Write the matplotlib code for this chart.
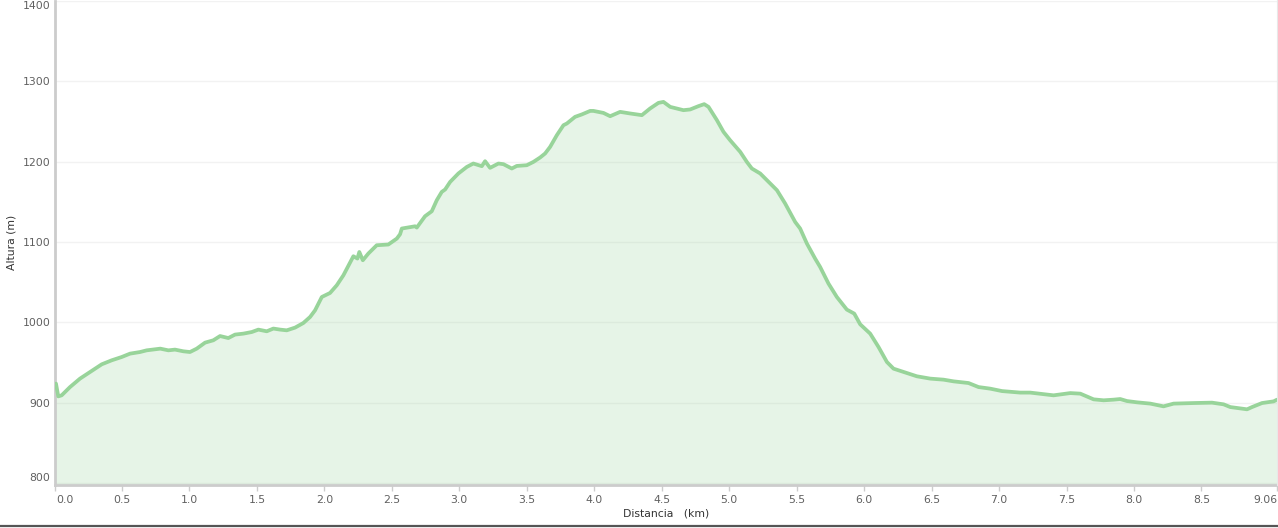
import matplotlib
matplotlib.use("Agg")
import matplotlib.pyplot as plt
import matplotlib.transforms as mtransforms
from matplotlib.lines import Line2D

distance_km = [0.000, 0.011, 0.028, 0.053, 0.115, 0.189, 0.263, 0.350, 0.424, 0.498,
               0.560, 0.634, 0.683, 0.784, 0.844, 0.893, 0.955, 1.004, 1.054, 1.116,
               1.177, 1.227, 1.288, 1.338, 1.400, 1.462, 1.511, 1.573, 1.622, 1.672,
               1.721, 1.783, 1.844, 1.894, 1.931, 1.981, 2.042, 2.092, 2.141, 2.215,
               2.245, 2.259, 2.285, 2.326, 2.388, 2.474, 2.537, 2.561, 2.574, 2.672,
               2.685, 2.746, 2.796, 2.833, 2.870, 2.895, 2.932, 2.993, 3.056, 3.104,
               3.167, 3.191, 3.228, 3.290, 3.327, 3.389, 3.426, 3.500, 3.549, 3.599,
               3.636, 3.673, 3.723, 3.772, 3.797, 3.858, 3.908, 3.970, 3.994, 4.068,
               4.118, 4.192, 4.266, 4.353, 4.414, 4.476, 4.513, 4.563, 4.661, 4.711,
               4.772, 4.815, 4.847, 4.909, 4.958, 5.007, 5.082, 5.131, 5.168, 5.230,
               5.317, 5.354, 5.415, 5.489, 5.526, 5.576, 5.637, 5.674, 5.736, 5.798,
               5.872, 5.927, 5.971, 6.045, 6.107, 6.169, 6.218, 6.317, 6.391, 6.490,
               6.589, 6.663, 6.774, 6.848, 6.935, 7.022, 7.157, 7.231, 7.404, 7.528,
               7.602, 7.701, 7.775, 7.849, 7.898, 7.948, 8.022, 8.121, 8.219, 8.294,
               8.442, 8.578, 8.664, 8.714, 8.838, 8.875, 8.949, 9.035, 9.060]

altitude_m = [922.0, 923.7, 907.8, 909.1, 919.4, 929.9, 938.1, 947.7, 952.7, 956.8,
              961.0, 963.0, 965.1, 967.2, 965.1, 966.0, 963.9, 963.0, 967.2, 974.7,
              977.6, 982.9, 980.4, 984.7, 985.9, 987.9, 990.9, 988.8, 992.2, 990.9,
              990.0, 993.4, 999.1, 1006.6, 1014.9, 1031.5, 1036.5, 1046.1, 1058.5, 1082.2,
              1079.3, 1087.5, 1077.2, 1085.6, 1095.9, 1096.8, 1104.2, 1109.6, 1116.7, 1119.5,
              1117.9, 1132.0, 1138.2, 1151.9, 1162.3, 1165.3, 1174.7, 1185.2, 1193.4, 1197.6,
              1194.3, 1200.5, 1192.2, 1197.6, 1196.8, 1191.4, 1194.6, 1195.5, 1199.6, 1205.1,
              1210.1, 1218.3, 1232.9, 1245.3, 1247.4, 1255.7, 1258.7, 1263.1, 1263.1, 1260.6,
              1256.5, 1261.9, 1259.9, 1257.8, 1266.1, 1273.1, 1274.3, 1268.1, 1264.0, 1264.9,
              1269.0, 1271.5, 1268.1, 1251.6, 1237.0, 1226.6, 1212.1, 1199.6, 1191.4, 1185.2,
              1170.6, 1164.4, 1147.8, 1124.9, 1116.7, 1098.0, 1079.3, 1068.9, 1048.2, 1031.5,
              1015.8, 1010.8, 997.5, 985.9, 969.2, 950.6, 942.3, 936.9, 932.8, 929.9,
              928.6, 926.5, 924.4, 919.4, 917.4, 914.4, 912.5, 912.5, 909.1, 911.9,
              911.2, 904.1, 902.9, 903.7, 904.5, 902.0, 900.4, 898.8, 895.4, 898.8,
              899.5, 900.0, 897.9, 894.5, 891.7, 894.5, 899.5, 901.6, 903.7]

x_ticks = [0.0, 0.5, 1.0, 1.5, 2.0, 2.5, 3.0, 3.5, 4.0, 4.5, 5.0, 5.5, 6.0, 6.5,
           7.0, 7.5, 8.0, 8.5, 9.06]
x_tick_labels = ["0.0", "0.5", "1.0", "1.5", "2.0", "2.5", "3.0", "3.5", "4.0", "4.5",
                 "5.0", "5.5", "6.0", "6.5", "7.0", "7.5", "8.0", "8.5", "9.06"]
y_ticks = [800, 900, 1000, 1100, 1200, 1300, 1400]
y_tick_labels = ["800", "900", "1000", "1100", "1200", "1300", "1400"]

plt.rcParams['font.family'] = ['DejaVu Sans']

fig = plt.figure(figsize=(12.78, 5.28), dpi=100)
ax = fig.add_axes([54.5 / 1278, 43 / 528, (1277 - 54.5) / 1278, (528 - 43 - 0.5) / 528])

ax.set_xlim(0, 9.06)
ax.set_ylim(797.5, 1400.5)

ax.set_yticks(y_ticks)
ax.set_yticklabels(y_tick_labels)
ax.set_xticks(x_ticks)
ax.set_xticklabels(x_tick_labels)

ax.grid(axis='y', color='#f2f2f2', linewidth=1.0, zorder=0)
ax.set_axisbelow(True)

ax.fill_between(distance_km, altitude_m, 797.5, color='#8fd093', alpha=0.22,
                linewidth=0, zorder=1)
ax.plot(distance_km, altitude_m, color='#98d49a', linewidth=2.7, zorder=3,
        solid_joinstyle='round', solid_capstyle='round')

for side in ['top', 'right']:
    ax.spines[side].set_visible(False)
ax.spines['left'].set_color('#cccccc')
ax.spines['left'].set_linewidth(2)
ax.spines['bottom'].set_color('#cccccc')
ax.spines['bottom'].set_linewidth(2)

ax.tick_params(axis='y', length=0, pad=3, labelsize=7.8, labelcolor='#606060')
ax.tick_params(axis='x', length=4, width=1, color='#cccccc', pad=3,
               labelsize=7.8, labelcolor='#606060')

# edge label alignment
ylabels = ax.get_yticklabels()
ylabels[0].set_va('bottom')
ylabels[-1].set_va('top')
xlabels = ax.get_xticklabels()
xlabels[0].set_ha('left')
xlabels[0].set_transform(xlabels[0].get_transform() +
                         mtransforms.ScaledTranslation(2 / 100, 0, fig.dpi_scale_trans))
xlabels[-1].set_ha('right')

fig.text(12 / 1278, 1 - 242 / 528, 'Altura (m)', rotation=90, ha='center', va='center',
         fontsize=7.8, color='#333333')
fig.text(666 / 1278, 1 - 514 / 528, 'Distancia   (km)', ha='center', va='center',
         fontsize=7.8, color='#333333')

# thin right boundary and bottom frame line
fig.add_artist(Line2D([1277 / 1278, 1277 / 1278], [43 / 528, 1], color='#e8e8e8',
                      linewidth=0.8, transform=fig.transFigure))
fig.add_artist(Line2D([0, 1], [1.8 / 528, 1.8 / 528], color='#555555',
                      linewidth=1.6, transform=fig.transFigure))

fig.savefig('out.png', dpi=100)
